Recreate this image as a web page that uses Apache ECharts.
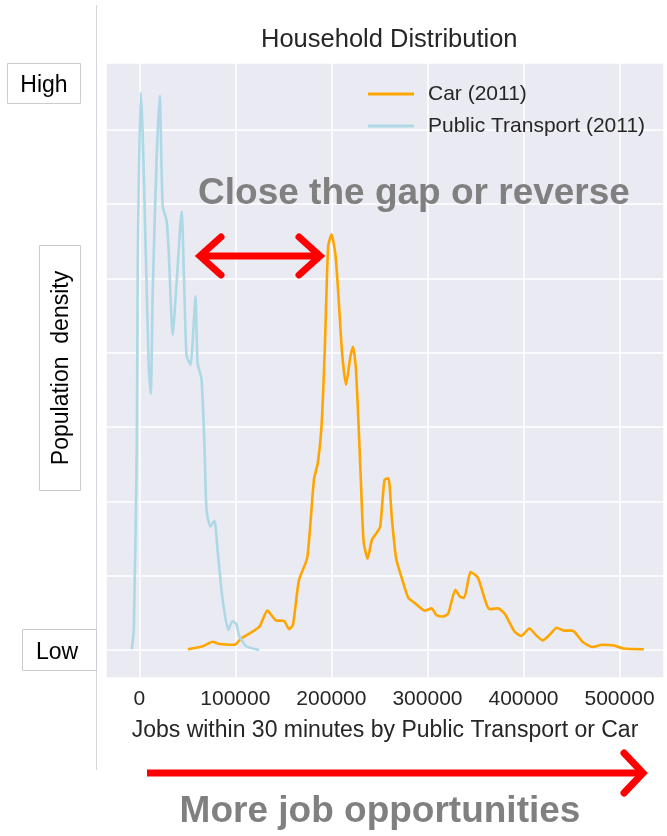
<!DOCTYPE html>
<html>
<head>
<meta charset="utf-8">
<title>Household Distribution</title>
<script src="https://cdn.jsdelivr.net/npm/echarts@6/dist/echarts.min.js"></script>
<style>
  html, body { margin: 0; padding: 0; background: #fff; }
  #chart { width: 667px; height: 836px; }
</style>
</head>
<body>
<div id="chart"></div>
<script>
// Public Transport (2011): jobs reachable vs. household density
const ptJobs = [-7800, -5700, -2600, -1550, 1550, 3600, 6700, 9800, 11900, 14000, 18100, 21200,
  24300, 28500, 30600, 34700, 38800, 44000, 47100, 49200, 53300, 58500, 60600, 64700,
  67800, 69900, 74000, 78200, 81300, 86500, 92700, 96900, 101000, 104100, 111400, 124800];
const ptDensity = [0.01, 0.30, 2.77, 5.36, 7.50, 6.90, 5.36, 3.81, 3.45, 4.85, 6.65, 7.46,
  5.98, 5.77, 5.36, 4.24, 4.94, 5.90, 4.74, 3.96, 3.84, 4.76, 3.86, 3.65,
  2.77, 1.90, 1.66, 1.74, 1.37, 0.70, 0.27, 0.39, 0.35, 0.19, 0.05, 0.0];

// Car (2011)
const carJobs = [50500, 66100, 76400, 83400, 98900, 105800, 124800, 133400, 142100, 150700, 155900, 160000,
  166200, 174800, 181800, 185900, 189700, 193100, 196600, 200100, 204200, 207600, 211100, 215200,
  219800, 222500, 225600, 230100, 233500, 237700, 242100, 247300, 250800, 255300, 259400, 262800,
  267400, 273200, 280100, 287100, 297400, 304300, 309400, 316400, 321600, 329100, 333700, 338100,
  345100, 352600, 364700, 373300, 380300, 390600, 397500, 406200, 413000, 419900, 426900, 434800,
  442400, 451000, 461400, 471700, 482100, 494200, 504600, 525300];
const carDensity = [0.01, 0.05, 0.11, 0.08, 0.07, 0.15, 0.31, 0.53, 0.40, 0.39, 0.28, 0.34,
  0.94, 1.24, 2.29, 2.52, 3.01, 4.04, 5.43, 5.59, 5.32, 4.71, 4.00, 3.57,
  3.95, 4.08, 3.77, 2.47, 1.46, 1.23, 1.48, 1.58, 1.66, 2.29, 2.31, 1.79,
  1.23, 0.97, 0.70, 0.63, 0.53, 0.56, 0.47, 0.45, 0.49, 0.81, 0.72, 0.70,
  1.05, 0.97, 0.55, 0.56, 0.49, 0.25, 0.19, 0.29, 0.20, 0.13, 0.20, 0.30,
  0.26, 0.26, 0.11, 0.04, 0.07, 0.06, 0.02, 0.01];

const seriesNames = ['Car (2011)', 'Public Transport (2011)'];

const FONT = '"Liberation Sans", Arial, sans-serif';
const TXT = '#262626';

function zip(xs, ys) {
  return xs.map((x, i) => [x, ys[i]]);
}

const chart = echarts.init(document.getElementById('chart'));

const option = {
  animation: false,
  textStyle: { fontFamily: FONT },
  title: {
    text: 'Household Distribution',
    left: 261,
    top: 27,
    padding: 0,
    textStyle: { fontSize: 25.5, fontWeight: 'normal', color: TXT, fontFamily: FONT }
  },
  legend: {
    data: seriesNames,
    orient: 'vertical',
    left: 368,
    top: 82,
    padding: 0,
    icon: 'rect',
    itemWidth: 46,
    itemHeight: 3,
    itemGap: 8,
    textStyle: { fontSize: 21, color: TXT, fontFamily: FONT, lineHeight: 24, padding: [0, 0, 0, 9] }
  },
  grid: {
    left: 106,
    right: 0,
    top: 63,
    bottom: 158,
    show: true,
    backgroundColor: '#eaeaf2',
    borderWidth: 0
  },
  xAxis: {
    type: 'value',
    min: -34700,
    max: 546300,
    splitNumber: 5,
    name: 'Jobs within 30 minutes by Public Transport or Car',
    nameLocation: 'middle',
    nameGap: 41,
    nameTextStyle: { fontSize: 23, color: TXT, fontFamily: FONT },
    axisLine: { show: false },
    axisTick: { show: false },
    axisLabel: {
      margin: 11,
      fontSize: 21,
      color: TXT,
      fontFamily: FONT,
      formatter: v => (v % 100000 === 0 ? String(v) : '')
    },
    splitLine: { lineStyle: { color: '#ffffff', width: 1.5 } }
  },
  yAxis: {
    type: 'value',
    min: -0.377,
    max: 7.9,
    splitNumber: 8,
    axisLine: { show: false },
    axisTick: { show: false },
    axisLabel: { show: false },
    splitLine: { lineStyle: { color: '#ffffff', width: 1.5 } }
  },
  series: [
    {
      name: seriesNames[0],
      type: 'line',
      data: zip(carJobs, carDensity),
      showSymbol: false,
      symbol: 'none',
      smooth: 0.2,
      color: '#ffa500',
      lineStyle: { width: 2.6, color: '#ffa500' }
    },
    {
      name: seriesNames[1],
      type: 'line',
      data: zip(ptJobs, ptDensity),
      showSymbol: false,
      symbol: 'none',
      smooth: 0.2,
      color: '#add8e6',
      lineStyle: { width: 2.6, color: '#add8e6' }
    }
  ],
  graphic: [
    // 左侧竖线和标签框
    { type: 'line', z: 50, shape: { x1: 96.5, y1: 5, x2: 96.5, y2: 770 }, style: { stroke: '#d6d6d6', lineWidth: 1 } },
    { type: 'rect', z: 51, shape: { x: 7.5, y: 63.5, width: 73, height: 40 }, style: { fill: '#fff', stroke: '#cccccc', lineWidth: 1 } },
    { type: 'text', z: 52, x: 44, y: 86, style: { text: 'High', font: '23px ' + FONT, fill: '#000', align: 'center', verticalAlign: 'middle' } },
    { type: 'rect', z: 51, shape: { x: 39.5, y: 245.5, width: 41, height: 245 }, style: { fill: '#fff', stroke: '#cccccc', lineWidth: 1 } },
    { type: 'text', z: 52, x: 62, y: 368, rotation: Math.PI / 2, style: { text: 'Population  density', font: '23px ' + FONT, fill: '#000', align: 'center', verticalAlign: 'middle' } },
    { type: 'rect', z: 51, shape: { x: 22.5, y: 629.5, width: 74, height: 41 }, style: { fill: '#fff', stroke: '#cccccc', lineWidth: 1 } },
    { type: 'text', z: 52, x: 57, y: 653, style: { text: 'Low', font: '23px ' + FONT, fill: '#000', align: 'center', verticalAlign: 'middle' } },

    // 注释文字
    { type: 'text', z: 60, x: 414, y: 194, style: { text: 'Close the gap or reverse', font: 'bold 37px ' + FONT, fill: '#808080', align: 'center', verticalAlign: 'middle' } },
    { type: 'text', z: 60, x: 380, y: 812, style: { text: 'More job opportunities', font: 'bold 37px ' + FONT, fill: '#808080', align: 'center', verticalAlign: 'middle' } },

    // 双向箭头
    { type: 'line', z: 60, shape: { x1: 203, y1: 256, x2: 317, y2: 256 }, style: { stroke: '#ff0000', lineWidth: 7, lineCap: 'butt' } },
    { type: 'polyline', z: 60, shape: { points: [[221, 237], [200, 256], [221, 275]] }, style: { stroke: '#ff0000', fill: null, lineWidth: 7, lineCap: 'round', lineJoin: 'miter' } },
    { type: 'polyline', z: 60, shape: { points: [[299, 237], [320, 256], [299, 275]] }, style: { stroke: '#ff0000', fill: null, lineWidth: 7, lineCap: 'round', lineJoin: 'miter' } },

    // 底部箭头
    { type: 'line', z: 60, shape: { x1: 147, y1: 773, x2: 640, y2: 773 }, style: { stroke: '#ff0000', lineWidth: 7, lineCap: 'butt' } },
    { type: 'polyline', z: 60, shape: { points: [[624, 753], [643, 773], [624, 793]] }, style: { stroke: '#ff0000', fill: null, lineWidth: 7, lineCap: 'round', lineJoin: 'miter' } }
  ]
};

chart.setOption(option);

window.addEventListener('resize', function () {
  chart.resize();
});
</script>
</body>
</html>
